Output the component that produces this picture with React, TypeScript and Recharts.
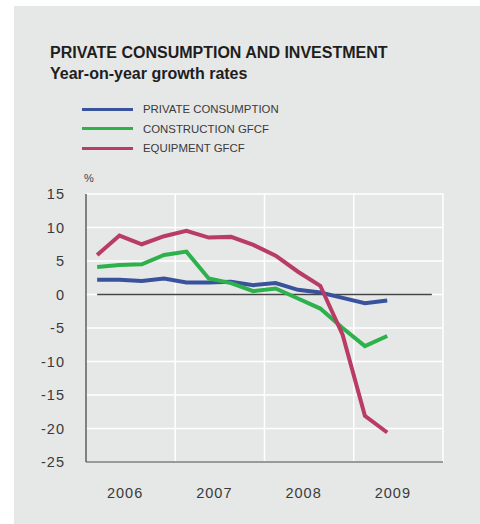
import { LineChart, Line, XAxis, YAxis, CartesianGrid, ReferenceLine } from 'recharts';

// quarters 2006Q1 .. 2009Q2, plotted at quarter midpoints
const quarters = ['06Q1', '06Q2', '06Q3', '06Q4', '07Q1', '07Q2', '07Q3', '07Q4', '08Q1', '08Q2', '08Q3', '08Q4', '09Q1', '09Q2'];
const privateConsumption = [2.2, 2.2, 2.0, 2.4, 1.8, 1.8, 1.9, 1.4, 1.7, 0.7, 0.3, -0.5, -1.3, -0.9];
const constructionGfcf = [4.1, 4.4, 4.5, 5.9, 6.4, 2.4, 1.7, 0.5, 0.9, -0.6, -2.1, -5.0, -7.7, -6.2];
const equipmentGfcf = [5.9, 8.8, 7.5, 8.7, 9.5, 8.5, 8.6, 7.4, 5.8, 3.4, 1.3, -6.0, -18.1, -20.6];

const years = ['2006', '2007', '2008', '2009'];
const yearTicks = [2, 6, 10, 14];
const yearBounds = [4, 8, 12, 16];
const yTicks = [-25, -20, -15, -10, -5, 0, 5, 10, 15];

const series = [
  { key: 'pc', name: 'PRIVATE CONSUMPTION', color: '#38539b' },
  { key: 'cg', name: 'CONSTRUCTION GFCF', color: '#2db14b' },
  { key: 'eg', name: 'EQUIPMENT GFCF', color: '#b83c64' },
];

const data = quarters.map((q, i) => ({
  q,
  x: i + 0.5,
  pc: privateConsumption[i],
  cg: constructionGfcf[i],
  eg: equipmentGfcf[i],
}));

const font = '"Liberation Sans", Arial, Helvetica, sans-serif';

export default function App() {
  return (
    <div style={{ position: 'absolute', left: 0, top: 0, width: 480, height: 524, background: '#fff', fontFamily: font }}>
      <div style={{ position: 'absolute', left: 14, top: 6, width: 466, height: 518, background: '#e6e7e7' }} />

      <div style={{ position: 'absolute', left: 50, top: 44.5, fontSize: 16, lineHeight: 1, fontWeight: 700, color: '#1e1e1e', whiteSpace: 'nowrap' }}>
        PRIVATE CONSUMPTION AND INVESTMENT
      </div>
      <div style={{ position: 'absolute', left: 50, top: 65.5, fontSize: 16, lineHeight: 1, fontWeight: 700, color: '#1e1e1e', whiteSpace: 'nowrap' }}>
        Year-on-year growth rates
      </div>

      {series.map((s, i) => (
        <div key={s.key} style={{ position: 'absolute', left: 82, top: 100 + i * 19.5, height: 18, display: 'flex', alignItems: 'center' }}>
          <div style={{ width: 51, height: 3, background: s.color }} />
          <span style={{ marginLeft: 10, fontSize: 11.4, color: '#3a3a3a', whiteSpace: 'nowrap' }}>{s.name}</span>
        </div>
      ))}

      <div style={{ position: 'absolute', left: 84, top: 172.5, fontSize: 11, lineHeight: 1, color: '#444' }}>%</div>

      <div style={{ position: 'absolute', left: 0, top: 0 }}>
        <LineChart width={480} height={524} data={data} margin={{ top: 194, right: 37, left: 0, bottom: 0 }}>
          <CartesianGrid vertical={false} stroke="#ffffff" strokeWidth={1.5} />
          <XAxis
            type="number"
            dataKey="x"
            domain={[0, 16]}
            ticks={yearTicks}
            tickFormatter={(v: number) => years[yearTicks.indexOf(v)] ?? ''}
            height={62}
            tickLine={false}
            tickMargin={20}
            axisLine={{ stroke: '#7a7a7a', strokeWidth: 1.7 }}
            tick={{ fontSize: 14.5, fill: '#3a3a3a', letterSpacing: 1, dx: -5.5, fontFamily: font }}
            allowDataOverflow
          />
          <YAxis
            type="number"
            domain={[-25, 15]}
            ticks={yTicks}
            width={86}
            tickLine={false}
            tickMargin={15}
            axisLine={{ stroke: '#555', strokeWidth: 1.4 }}
            tick={{ fontSize: 14.5, fill: '#3a3a3a', letterSpacing: 1, fontFamily: font }}
            interval={0}
          />
          {yearBounds.map(b => (
            <ReferenceLine key={b} x={b} stroke="#ffffff" strokeWidth={1.5} />
          ))}
          <ReferenceLine segment={[{ x: 0.5, y: 0 }, { x: 15.5, y: 0 }]} stroke="#444" strokeWidth={1.4} />
          {series.map(s => (
            <Line
              key={s.key}
              type="linear"
              dataKey={s.key}
              name={s.name}
              stroke={s.color}
              strokeWidth={4}
              dot={false}
              activeDot={false}
              isAnimationActive={false}
            />
          ))}
        </LineChart>
      </div>
    </div>
  );
}
